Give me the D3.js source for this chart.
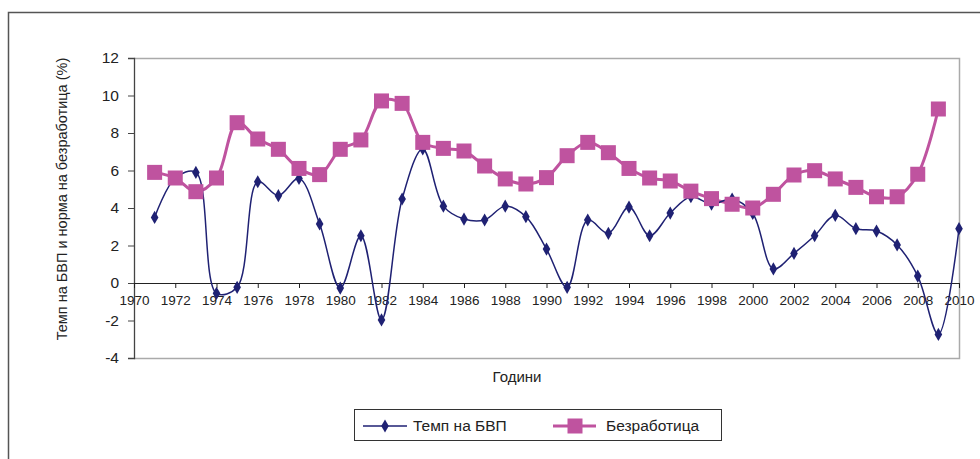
<!DOCTYPE html>
<html><head><meta charset="utf-8">
<script src="https://cdn.jsdelivr.net/npm/d3@7"></script>
<style>body{margin:0;background:#fff}svg{display:block}text{font-family:"Liberation Sans",Arial,sans-serif;fill:#222}</style>
</head><body><svg id="c" width="980" height="459"></svg>
<script>
const gdpYears = d3.range(1971, 2011);
const gdp = [3.5,5.6,5.9,-0.55,-0.23,5.4,4.66,5.58,3.15,-0.27,2.52,-1.97,4.48,7.15,4.1,3.41,3.36,4.1,3.54,1.81,-0.23,3.36,2.65,4.05,2.52,3.73,4.6,4.21,4.48,3.71,0.75,1.58,2.52,3.61,2.9,2.77,2.03,0.37,-2.74,2.9];
const unempYears = d3.range(1971, 2010);
const unemp = [5.9,5.6,4.87,5.6,8.55,7.68,7.13,6.11,5.78,7.13,7.63,9.71,9.58,7.5,7.18,7.04,6.24,5.55,5.28,5.62,6.79,7.5,6.95,6.11,5.6,5.44,4.9,4.5,4.2,4.0,4.73,5.76,5.99,5.55,5.1,4.6,4.6,5.8,9.28];
const xTicks = d3.range(1970, 2011, 2);
const yTicks = [-4,-2,0,2,4,6,8,10,12];
const seriesNames = ["Темп на БВП","Безработица"];
const yTitle = "Темп на БВП и норма на безработица (%)";
const xTitle = "Години";

const svg = d3.select("#c");
const L=134,R=959,T=58,B=358;
const x = d3.scaleLinear().domain([1970,2010]).range([L,R]);
const y = d3.scaleLinear().domain([-4,12]).range([B,T]);
const navy="#1f2173", mag="#bf539f";

svg.append("rect").attr("x",8.5).attr("y",12.5).attr("width",990).attr("height",470).attr("fill","none").attr("stroke","#555").attr("stroke-width",1.5);
svg.append("path").attr("d",`M${L},${T+0.5}H${R+0.5}V${B+0.5}H${L}`).attr("fill","none").attr("stroke","#aaa").attr("stroke-width",1.5);

const ya = svg.append("g").attr("transform",`translate(${L},0)`).call(d3.axisLeft(y).tickValues(yTicks).tickSize(6).tickFormat(d=>String(d)));
ya.select(".domain").attr("stroke","#444").attr("stroke-width",1.3);
ya.selectAll(".tick line").attr("stroke","#444");
ya.selectAll("text").attr("font-size",15.5).attr("x",-15).style("fill","#222").style("font-family","Liberation Sans, Arial");

const xa = svg.append("g").attr("transform",`translate(0,${y(0)})`).call(d3.axisBottom(x).tickValues(xTicks).tickSize(5).tickFormat(d=>String(d)));
xa.select(".domain").attr("stroke","#222").attr("stroke-width",1);
xa.selectAll(".tick line").attr("stroke","#222");
xa.selectAll("text").attr("font-size",13.5).attr("y",12).style("fill","#222").style("font-family","Liberation Sans, Arial");

svg.append("text").attr("transform",`translate(67,199) rotate(-90)`).attr("text-anchor","middle").attr("font-size",14.5).text(yTitle);
svg.append("text").attr("x",517).attr("y",382).attr("text-anchor","middle").attr("font-size",15).text(xTitle);

const curve = d3.curveCatmullRom.alpha(0.5);
const line = d3.line().curve(curve).x(d=>x(d[0])).y(d=>y(d[1]));
const uData = unempYears.map((yr,i)=>[yr,unemp[i]]);
const gData = gdpYears.map((yr,i)=>[yr,gdp[i]]);

svg.append("path").datum(uData).attr("d",line).attr("fill","none").attr("stroke",mag).attr("stroke-width",3);
svg.append("path").datum(gData).attr("d",line).attr("fill","none").attr("stroke",navy).attr("stroke-width",1.5);

const diamond = d3.symbol().type(d3.symbolDiamond).size(50);
svg.selectAll(".g").data(gData).enter().append("path").attr("transform",d=>`translate(${x(d[0])},${y(d[1])})`).attr("d",diamond).attr("fill",navy);
svg.selectAll(".u").data(uData).enter().append("rect").attr("x",d=>x(d[0])-7.5).attr("y",d=>y(d[1])-7.5).attr("width",15).attr("height",15).attr("fill",mag);

const lg = svg.append("g");
lg.append("rect").attr("x",354.5).attr("y",409.5).attr("width",367).attr("height",31).attr("fill","#fff").attr("stroke","#333").attr("stroke-width",1);
lg.append("line").attr("x1",363).attr("x2",407).attr("y1",426).attr("y2",426).attr("stroke",navy).attr("stroke-width",1.5);
lg.append("path").attr("transform","translate(385,426)").attr("d",diamond).attr("fill",navy);
lg.append("text").attr("x",413).attr("y",431).attr("font-size",15.5).text(seriesNames[0]);
lg.append("line").attr("x1",553).attr("x2",596).attr("y1",426).attr("y2",426).attr("stroke",mag).attr("stroke-width",3);
lg.append("rect").attr("x",567.5).attr("y",418.5).attr("width",15).attr("height",15).attr("fill",mag);
lg.append("text").attr("x",606).attr("y",431).attr("font-size",15.5).text(seriesNames[1]);
</script></body></html>
